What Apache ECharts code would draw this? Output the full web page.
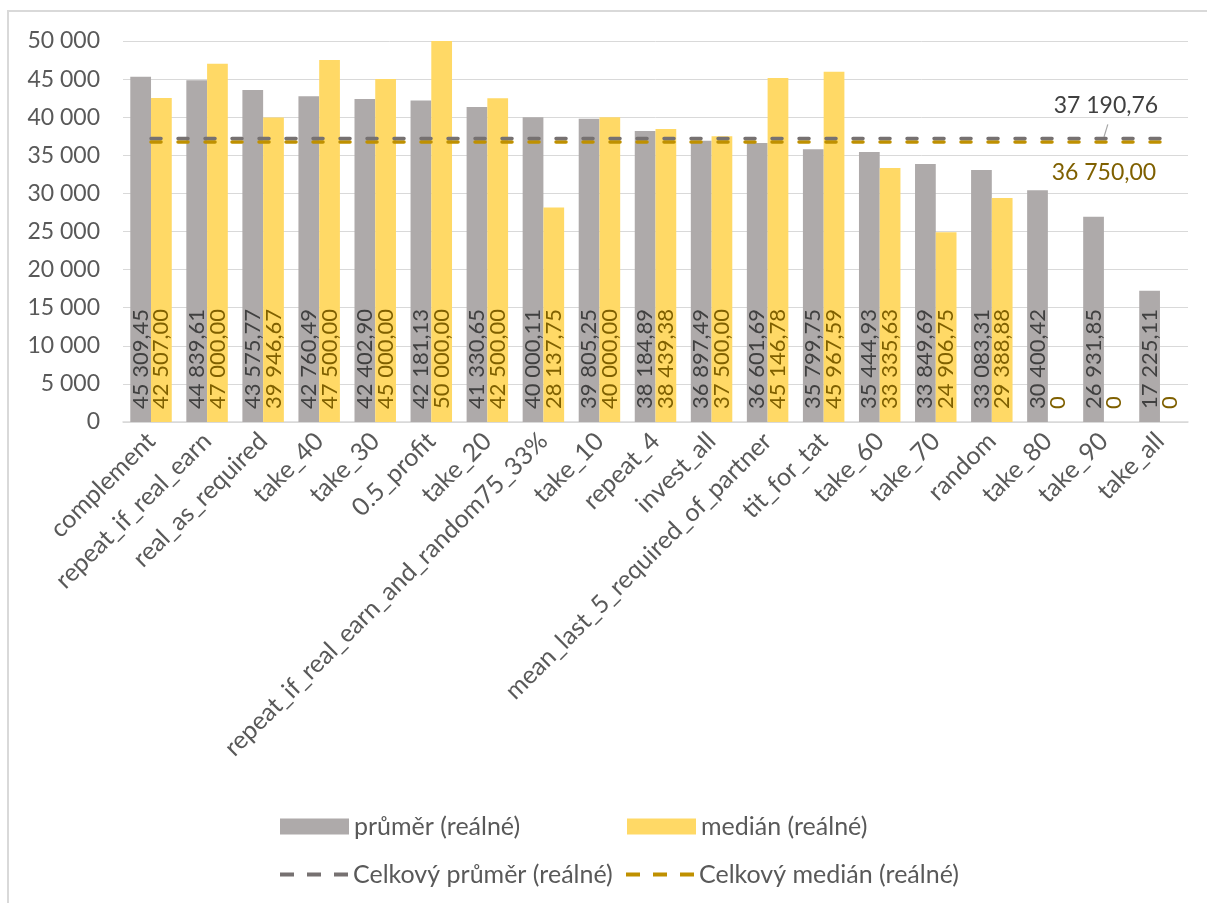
<!DOCTYPE html>
<html>
<head>
<meta charset="utf-8">
<script src="https://cdn.jsdelivr.net/npm/echarts@6/dist/echarts.min.js"></script>
<style>
  html, body { margin: 0; padding: 0; background: #ffffff; }
  #chart { width: 1207px; height: 903px; }
</style>
</head>
<body>
<div id="chart"></div>
<script>
// Strategies, ordered by their mean real payoff
const categories = [
  'complement', 'repeat_if_real_earn', 'real_as_required', 'take_40', 'take_30',
  '0.5_profit', 'take_20', 'repeat_if_real_earn_and_random75_33%', 'take_10',
  'repeat_4', 'invest_all', 'mean_last_5_required_of_partner', 'tit_for_tat',
  'take_60', 'take_70', 'random', 'take_80', 'take_90', 'take_all'
];

// průměr (reálné)
const meanValues = [
  45309.45, 44839.61, 43575.77, 42760.49, 42402.90, 42181.13, 41330.65,
  40000.11, 39805.25, 38184.89, 36897.49, 36601.69, 35799.75, 35444.93,
  33849.69, 33083.31, 30400.42, 26931.85, 17225.11
];

// medián (reálné)
const medianValues = [
  42507.00, 47000.00, 39946.67, 47500.00, 45000.00, 50000.00, 42500.00,
  28137.75, 40000.00, 38439.38, 37500.00, 45146.78, 45967.59, 33335.63,
  24906.75, 29388.88, 0, 0, 0
];

// Celkový průměr / medián (reálné)
const overallMean = 37190.76;
const overallMedian = 36750.00;

// Y axis ticks
const yTicks = [0, 5000, 10000, 15000, 20000, 25000, 30000, 35000, 40000, 45000, 50000];

const seriesNames = ['průměr (reálné)', 'medián (reálné)', 'Celkový průměr (reálné)', 'Celkový medián (reálné)'];

const FONT = 'Lato, "Noto Sans", sans-serif';
const C_BAR_MEAN = '#AEAAAA';
const C_BAR_MED = '#FFD966';
const C_LINE_MEAN = '#767171';
const C_LINE_MED = '#BF9000';
const C_TXT = '#595959';
const C_LBL_MEAN = '#404040';
const C_LBL_MED = '#7F6000';

// Czech number format: space thousands separator, decimal comma
function groupThousands(intStr) {
  return intStr.replace(/\B(?=(\d{3})+(?!\d))/g, '\u00a0');
}
function fmtDecimal(v) {
  if (v === 0) return '0';
  const parts = v.toFixed(2).split('.');
  return groupThousands(parts[0]) + ',' + parts[1];
}
function fmtInt(v) {
  return groupThousands(String(Math.round(v)));
}

const dashIcon = 'path://M0,0h14v4h-14z M27,0h14v4h-14z M54,0h14v4h-14z';
const legendText = { color: C_TXT, fontSize: 25, fontFamily: FONT };

const chart = echarts.init(document.getElementById('chart'), null, { renderer: 'canvas' });

const option = {
  backgroundColor: '#ffffff',
  animation: false,
  textStyle: { fontFamily: FONT },
  graphic: [{
    type: 'rect',
    shape: { x: 8, y: 11, width: 1240, height: 940 },
    style: { fill: 'none', stroke: '#D9D9D9', lineWidth: 2 },
    silent: true
  }],
  grid: { left: 123, right: 19, top: 41, bottom: 481, containLabel: false },
  legend: [
    {
      data: [seriesNames[0]], left: 275, top: 809, itemWidth: 69, itemHeight: 16, icon: 'rect',
      textStyle: legendText, itemGap: 0
    },
    {
      data: [seriesNames[1]], left: 622, top: 809, itemWidth: 69, itemHeight: 16, icon: 'rect',
      textStyle: legendText, itemGap: 0
    },
    {
      data: [{ name: seriesNames[2], icon: dashIcon }], left: 275, top: 857, itemWidth: 68, itemHeight: 4,
      itemStyle: { color: C_LINE_MEAN, borderWidth: 0 }, lineStyle: { width: 0 },
      textStyle: legendText, itemGap: 0
    },
    {
      data: [{ name: seriesNames[3], icon: dashIcon }], left: 621, top: 857, itemWidth: 68, itemHeight: 4,
      itemStyle: { color: C_LINE_MED, borderWidth: 0 }, lineStyle: { width: 0 },
      textStyle: legendText, itemGap: 0
    }
  ],
  xAxis: {
    type: 'category',
    data: categories,
    axisLine: { lineStyle: { color: '#D9D9D9', width: 1.5 } },
    axisTick: { show: false },
    axisLabel: {
      rotate: 45, interval: 0, margin: 15,
      color: C_TXT, fontSize: 25, fontFamily: FONT
    }
  },
  yAxis: {
    type: 'value',
    min: yTicks[0],
    max: yTicks[yTicks.length - 1],
    interval: yTicks[1] - yTicks[0],
    axisLine: { show: false },
    axisTick: { show: false },
    splitLine: { lineStyle: { color: '#D9D9D9', width: 1 } },
    axisLabel: { color: C_TXT, fontSize: 23, fontFamily: FONT, margin: 23, formatter: fmtInt }
  },
  series: [
    {
      name: seriesNames[0],
      type: 'bar',
      data: meanValues,
      barGap: '0%',
      barCategoryGap: '26%',
      itemStyle: { color: C_BAR_MEAN },
      label: {
        show: true, position: 'insideBottom', rotate: 90, distance: 13,
        align: 'left', verticalAlign: 'middle',
        color: C_LBL_MEAN, fontSize: 22, fontFamily: FONT,
        formatter: p => fmtDecimal(p.value)
      }
    },
    {
      name: seriesNames[1],
      type: 'bar',
      data: medianValues,
      itemStyle: { color: C_BAR_MED },
      label: {
        show: true, position: 'insideBottom', rotate: 90, distance: 13,
        align: 'left', verticalAlign: 'middle',
        color: C_LBL_MED, fontSize: 22, fontFamily: FONT,
        formatter: p => fmtDecimal(p.value)
      }
    },
    {
      name: seriesNames[3],
      type: 'line',
      data: [[categories[0], overallMedian], [categories[categories.length - 1], overallMedian]],
      symbol: 'none',
      itemStyle: { color: C_LINE_MED },
      lineStyle: { color: C_LINE_MED, width: 3.5, type: [10, 17], cap: 'round' },
      z: 5,
      markPoint: {
        silent: true,
        symbol: 'circle', symbolSize: 0,
        data: [{
          coord: [categories[17], overallMedian],
          label: {
            show: true, position: 'bottom', distance: 19,
            color: C_LBL_MED, fontSize: 23, fontFamily: FONT,
            formatter: () => fmtDecimal(overallMedian)
          }
        }]
      }
    },
    {
      name: seriesNames[2],
      type: 'line',
      data: [[categories[0], overallMean], [categories[categories.length - 1], overallMean]],
      symbol: 'none',
      itemStyle: { color: C_LINE_MEAN },
      lineStyle: { color: C_LINE_MEAN, width: 3.5, type: [10, 17], cap: 'round' },
      z: 6,
      markPoint: {
        silent: true,
        data: [{
          coord: [categories[17], overallMean],
          symbol: 'rect', symbolSize: [1.2, 13], symbolRotate: -17, symbolOffset: [2, -8],
          itemStyle: { color: '#A6A6A6' },
          label: {
            show: true, position: 'top', distance: 7,
            color: C_LBL_MEAN, fontSize: 23, fontFamily: FONT,
            formatter: () => fmtDecimal(overallMean)
          }
        }]
      }
    }
  ]
};

chart.setOption(option);
</script>
</body>
</html>
